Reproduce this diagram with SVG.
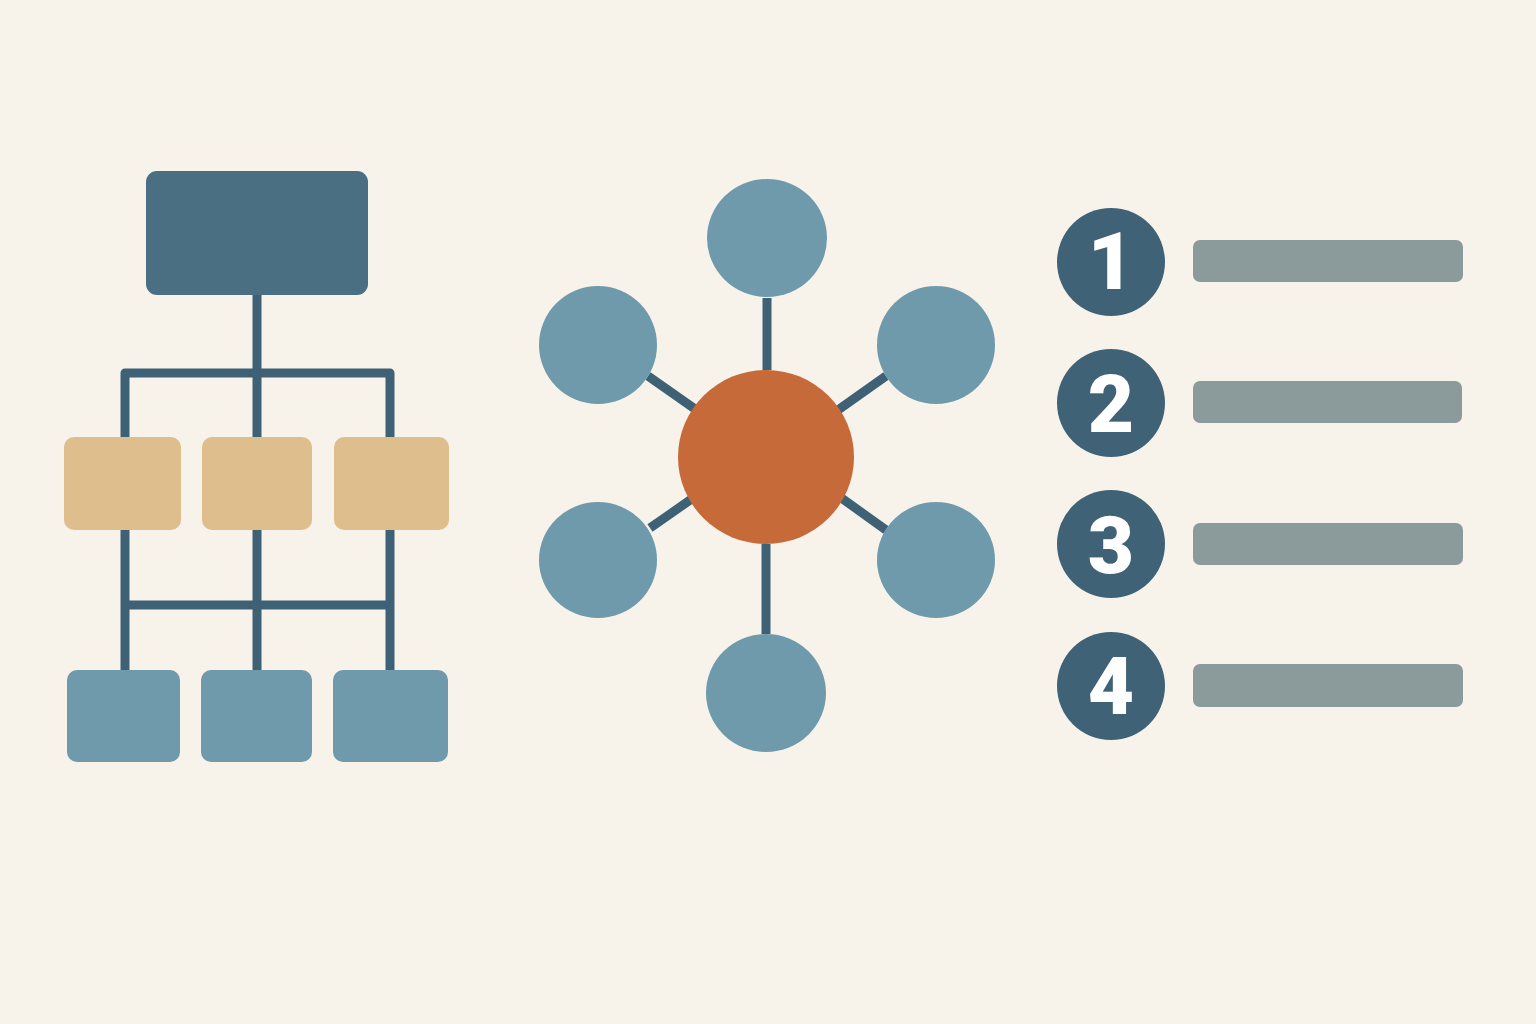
<svg xmlns="http://www.w3.org/2000/svg" width="1536" height="1024" viewBox="0 0 1536 1024">
<style>
.ln{stroke:#3f6175;stroke-width:9;fill:none;stroke-linecap:butt;stroke-linejoin:round}
.top{fill:#4a6f82}
.mid{fill:#dfbe8d}
.bot{fill:#6e9aab}
.sat{fill:#6e9aab}
.hub{fill:#c56a38}
.num{fill:#3f6277}
.bar{fill:#8b9b9b}
.dg{font-family:Roboto,"Liberation Sans",sans-serif;font-weight:900;font-size:80px;fill:#ffffff;text-anchor:middle}
</style>
<rect width="1536" height="1024" fill="#f7f3ea"/>
<g id="connectors">
<path class="ln" d="M257 295 V373 M125 437 V373 H390 V437 M257 373 V437"/>
<path class="ln" d="M125 530 V670 M257 530 V670 M390 530 V670 M125 605 H390"/>
<line class="ln" x1="767" y1="298" x2="767" y2="370"/>
<line class="ln" x1="766" y1="544" x2="766" y2="634"/>
<line class="ln" x1="648" y1="376" x2="695" y2="409"/>
<line class="ln" x1="886" y1="376" x2="838" y2="410"/>
<line class="ln" x1="650" y1="528" x2="693" y2="498"/>
<line class="ln" x1="886" y1="530" x2="840" y2="497"/>
</g>
<g id="tree-root"><rect class="top" x="146" y="171" width="222" height="124" rx="11"/></g>
<g id="tree-mid-1"><rect class="mid" x="64" y="437" width="117" height="93" rx="10"/></g>
<g id="tree-mid-2"><rect class="mid" x="202" y="437" width="110" height="93" rx="10"/></g>
<g id="tree-mid-3"><rect class="mid" x="334" y="437" width="115" height="93" rx="10"/></g>
<g id="tree-bot-1"><rect class="bot" x="67" y="670" width="113" height="92" rx="10"/></g>
<g id="tree-bot-2"><rect class="bot" x="201" y="670" width="111" height="92" rx="10"/></g>
<g id="tree-bot-3"><rect class="bot" x="333" y="670" width="115" height="92" rx="10"/></g>
<g id="hub"><ellipse class="hub" cx="766" cy="457" rx="88" ry="87"/></g>
<g id="sat-top"><ellipse class="sat" cx="767" cy="238" rx="60" ry="59"/></g>
<g id="sat-ul"><ellipse class="sat" cx="598" cy="345" rx="59" ry="59"/></g>
<g id="sat-ur"><ellipse class="sat" cx="936" cy="345" rx="59" ry="59"/></g>
<g id="sat-ll"><ellipse class="sat" cx="598" cy="560" rx="59" ry="58"/></g>
<g id="sat-lr"><ellipse class="sat" cx="936" cy="560" rx="59" ry="58"/></g>
<g id="sat-bot"><ellipse class="sat" cx="766" cy="693" rx="60" ry="59"/></g>
<g id="item-1"><circle class="num" cx="1111" cy="262" r="54"/><text class="dg" x="1111" y="289">1</text><rect class="bar" x="1193" y="240" width="270" height="42" rx="7"/></g>
<g id="item-2"><circle class="num" cx="1111" cy="403" r="54"/><text class="dg" x="1111" y="432">2</text><rect class="bar" x="1193" y="381" width="269" height="42" rx="7"/></g>
<g id="item-3"><circle class="num" cx="1111" cy="544" r="54"/><text class="dg" x="1111" y="573">3</text><rect class="bar" x="1193" y="523" width="270" height="42" rx="7"/></g>
<g id="item-4"><circle class="num" cx="1111" cy="686" r="54"/><text class="dg" x="1111" y="714">4</text><rect class="bar" x="1193" y="664" width="270" height="43" rx="7"/></g>
</svg>
